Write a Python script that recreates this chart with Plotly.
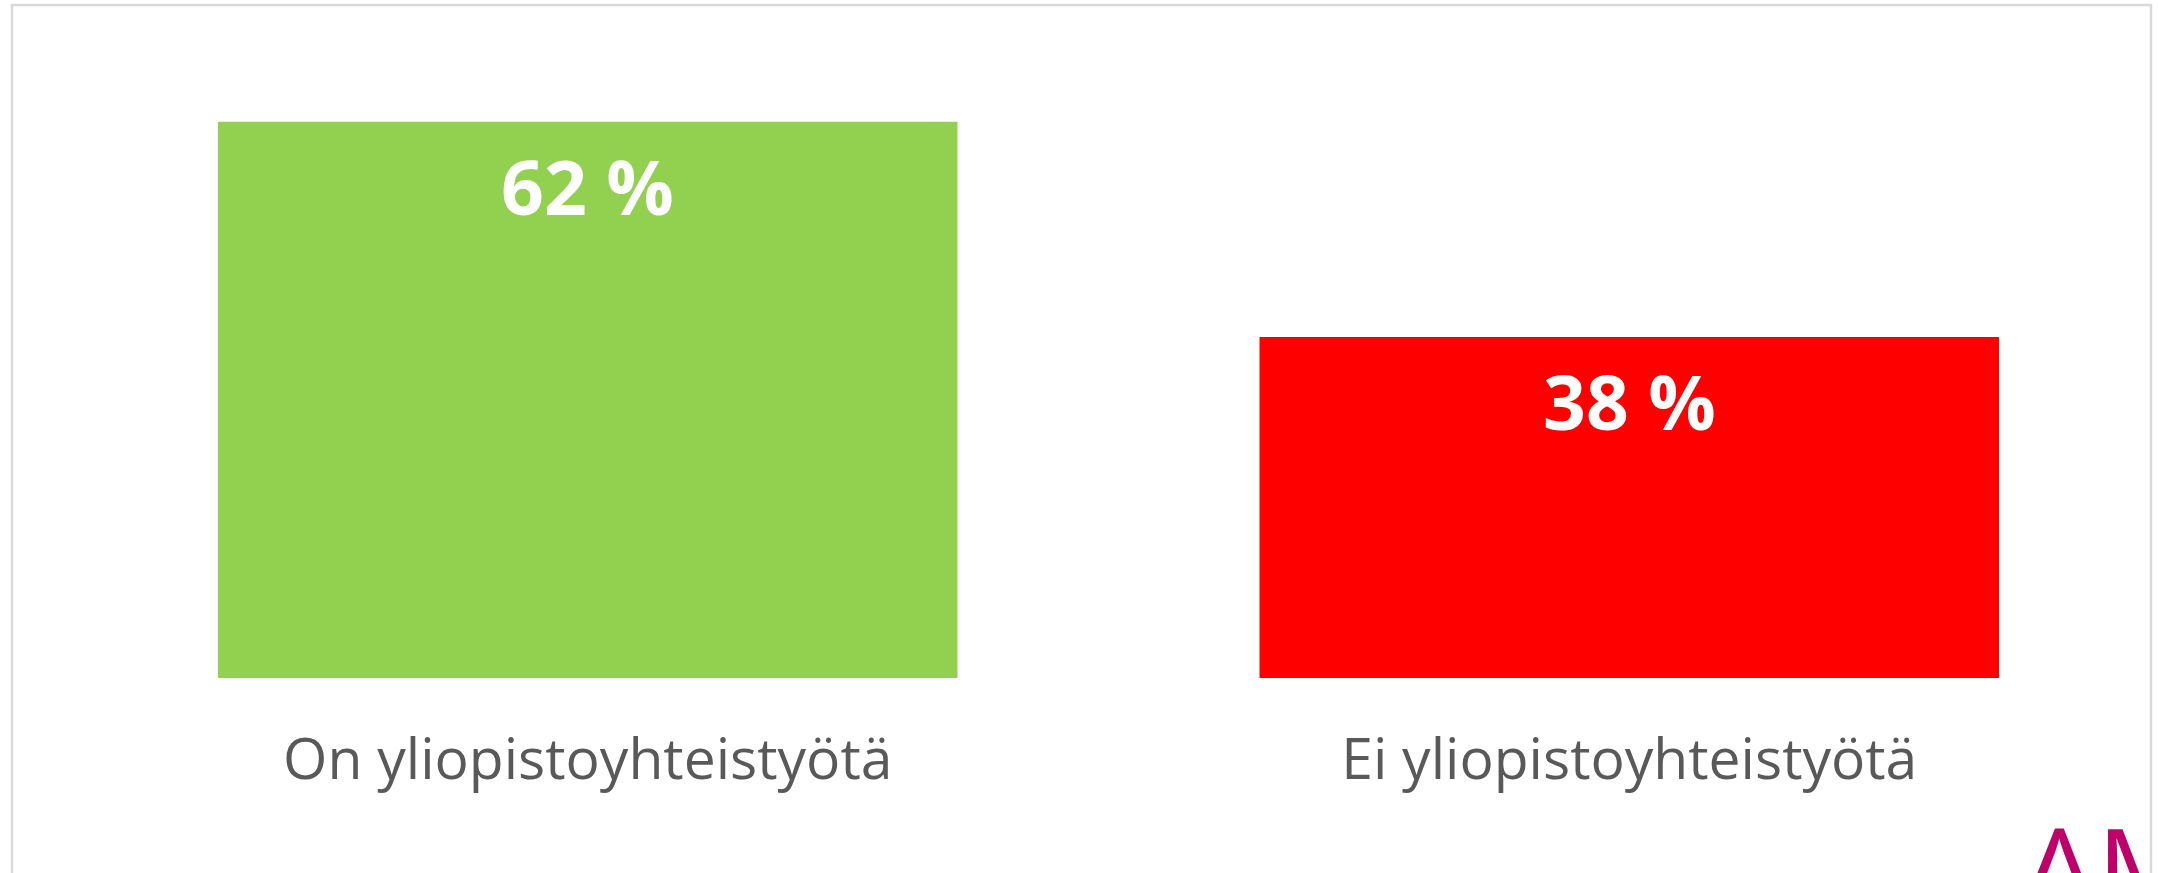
import plotly.graph_objects as go

categories = ["On yliopistoyhteistyötä", "Ei yliopistoyhteistyötä"]
values = [62, 38]
value_labels = ["62 %", "38 %"]
colors = ["#92D050", "#FF0000"]

W, H = 2158, 873
L, R, T, B = 67, 8, 50, 195
plot_w = W - L - R
plot_h = H - T - B


def px_x(px):
    return (px - L) / plot_w


def px_y(py):
    return (H - B - py) / plot_h


fig = go.Figure()
fig.add_trace(go.Bar(
    x=categories, y=values,
    marker=dict(color=colors, line=dict(width=0)),
    hoverinfo="skip",
))

for c, v, lab in zip(categories, values, value_labels):
    fig.add_annotation(
        x=c, y=v, xref="x", yref="y", text=f"<b>{lab}</b>",
        showarrow=False, yanchor="top", yshift=-11,
        font=dict(family="Open Sans", size=75, color="#FFFFFF"),
    )

# frame
fig.add_shape(type="rect", xref="paper", yref="paper",
              x0=px_x(12), x1=px_x(2151), y0=px_y(900), y1=px_y(5),
              line=dict(color="#D9D9D9", width=2.5), fillcolor="rgba(0,0,0,0)",
              layer="below")

# partial logo text at bottom right
fig.add_annotation(
    xref="paper", yref="paper", x=px_x(2020), y=px_y(785),
    xanchor="left", yanchor="top", text="AMK", showarrow=False,
    font=dict(family="Open Sans", size=118, color="#C0006A"),
)

fig.update_layout(
    width=W, height=H,
    margin=dict(l=L, r=R, t=T, b=B, pad=0),
    paper_bgcolor="white", plot_bgcolor="white",
    bargap=0.29, showlegend=False,
    xaxis=dict(showline=False, showgrid=False, zeroline=False, ticks="",
               tickfont=dict(family="Open Sans", size=57, color="#595959"),
               ticklabelstandoff=43),
    yaxis=dict(range=[0, 70], visible=False, showgrid=False, zeroline=False),
)

fig.write_html("out.html", config={"displayModeBar": False},
               post_script="document.body.style.margin='0';document.body.style.overflow='hidden';")
